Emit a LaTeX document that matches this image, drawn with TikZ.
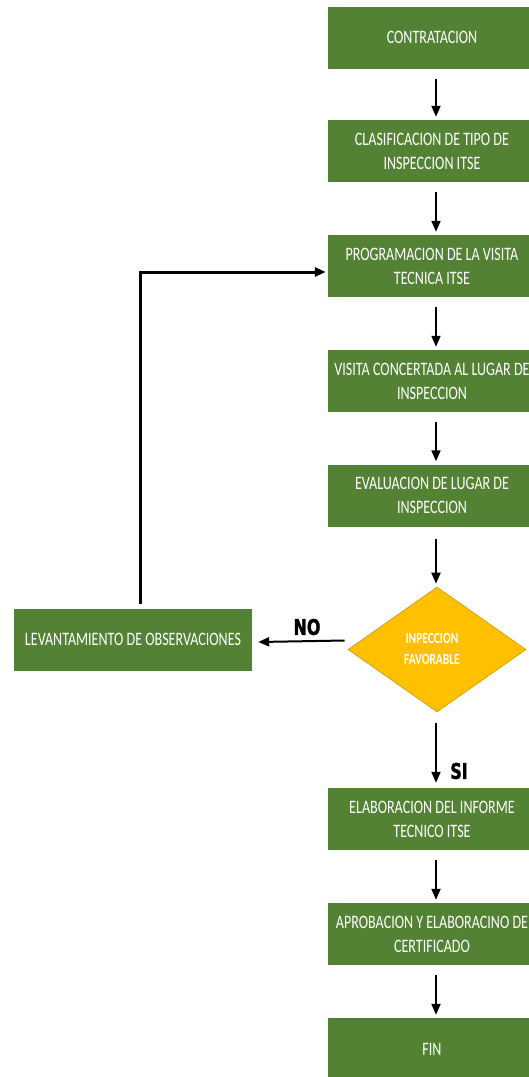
\documentclass[tikz,border=0pt]{standalone}
\usepackage{fontspec}
\setmainfont[FakeStretch=0.74]{Carlito}
\newfontfamily\tagfont[FakeStretch=0.74,FakeBold=1.6]{DejaVu Sans}
\usetikzlibrary{shapes.geometric,arrows.meta,calc}
\definecolor{stepgreen}{HTML}{548235}
\definecolor{decgold}{HTML}{FFC000}
\definecolor{decedge}{HTML}{C99A00}
\begin{document}
\begin{tikzpicture}[x=1pt,y=-1pt,
  stepbox/.style={fill=stepgreen, text=white, minimum width=208pt, minimum height=62pt,
    inner sep=0pt, align=center, font=\fontsize{19}{24}\selectfont},
  sidebox/.style={stepbox, minimum width=238pt},
  decision/.style={diamond, fill=decgold, draw=decedge, line width=0.6pt,
    minimum width=178pt, minimum height=125pt, inner sep=0pt},
  dectext/.style={text=white, align=center, inner sep=0pt,
    font=\fontsize{15.5}{21}\selectfont\bfseries},
  flow/.style={draw=black, line width=2pt, -{Triangle[length=11pt,width=9pt]}},
  loopflow/.style={flow, line width=3pt},
  tag/.style={font=\tagfont\bfseries\fontsize{21.5}{24}\selectfont, inner sep=0pt}]
\clip (0,0) rectangle (529,1077);
\fill[white] (0,0) rectangle (529,1077);

% main column of steps
\node[stepbox] (b1) at (432,37.5) {CONTRATACION};
\node[stepbox] (b2) at (432,151) {CLASIFICACION DE TIPO DE\\INSPECCION ITSE};
\node[stepbox] (b3) at (432,266) {PROGRAMACION DE LA VISITA\\TECNICA ITSE};
\node[stepbox] (b4) at (432,381) {VISITA CONCERTADA AL LUGAR DE\\INSPECCION};
\node[stepbox] (b5) at (432,495.5) {EVALUACION DE LUGAR DE\\INSPECCION};
\node[decision] (dec) at (437,649.5) {};
\node[dectext] (dect) at (432,649) {INPECCION\\FAVORABLE};
\node[stepbox] (b7) at (432,819) {ELABORACION DEL INFORME\\TECNICO ITSE};
\node[stepbox] (b8) at (432,934) {APROBACION Y ELABORACINO DE\\CERTIFICADO};
\node[stepbox] (b9) at (432,1049) {FIN};

% side step for the rejected case
\node[sidebox] (lev) at (133,639.5) {LEVANTAMIENTO DE OBSERVACIONES};

% connectors
\foreach \a/\b in {b1/b2,b2/b3,b3/b4,b4/b5,b7/b8,b8/b9}
  \draw[flow, shorten <=10pt, shorten >=3pt] ([xshift=4pt]\a.south) -- ([xshift=4pt]\b.north);
\draw[flow, shorten <=12pt, shorten >=3pt] ([xshift=4pt]b5.south) -- ([xshift=-1pt]dec.north);
\draw[flow, shorten <=11pt, shorten >=5pt] ([xshift=-1pt]dec.south) -- ([xshift=4pt]b7.north);
\draw[flow] ($(dec.west)+(-3,-9)$) -- ($(lev.east)+(6,2.5)$);
\draw[loopflow] ($(lev.north)+(7,-4)$) |- ($(b3.west)+(-2,6)$);

% branch labels
\node[tag] (no) at (307,627) {NO};
\node[tag] (si) at (459,771) {SI};
\end{tikzpicture}
\end{document}
